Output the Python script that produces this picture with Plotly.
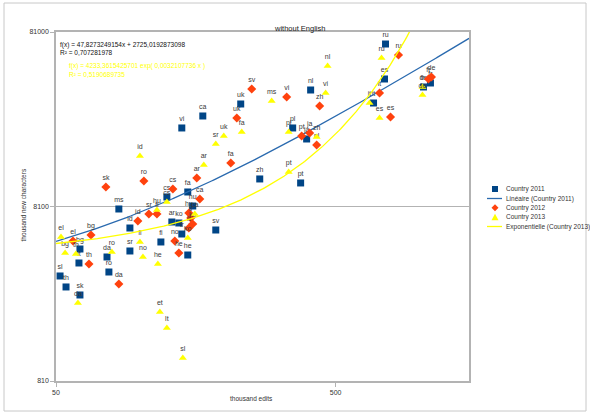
import numpy as np
import plotly.graph_objects as go

# ---- data: thousand edits (x) vs thousand new characters (y), per language ----
lang_2011 = ["vi", "ca", "uk", "nl", "ru", "es", "de", "fr", "it", "pl", "ja", "zh", "pt",
             "sv", "fa", "cs", "ms", "id", "ar", "hu", "ko", "tr", "fi", "he", "sr", "da",
             "ro", "bg", "lt", "sl", "th", "sk"]
edits_2011 = [140.9, 167.5, 228.9, 407.1, 754.3, 748.1, 1031, 1092, 683.4, 351.1, 393.9, 267.7, 374.9,
              186.4, 148.0, 124.6, 83.9, 91.9, 129.8, 154.2, 137.5, 140.9, 118.6, 148.0, 91.9, 76.1,
              77.3, 60.9, 60.4, 51.7, 54.3, 60.9]
chars_2011 = [22830, 26740, 31330, 37680, 69130, 43570, 39210, 41330, 31740, 22830, 19740, 11650, 11050,
              5940, 9810, 9183, 7838, 6099, 6603, 8154, 6516, 5635, 5072, 4271, 4503, 4160,
              3413, 4623, 3844, 3238, 2801, 2520]

lang_2012 = ["sv", "vi", "uk", "zh", "it", "es", "ru", "de", "fr", "pt", "ja", "nl", "fa", "ar",
             "ca", "ro", "sk", "cs", "sr", "fi", "id", "bg", "el", "th", "da", "no", "he", "hu",
             "tr", "ko", "lt"]
edits_2012 = [250.6, 334.2, 221.6, 438.5, 718.0, 786.0, 839.4, 1101, 1074, 378.1, 403.8, 427.8, 210.9, 159.4,
              163.4, 103.1, 75.4, 130.9, 107.4, 114.8, 98.1, 66.7, 57.5, 65.6, 83.9, 133.0, 137.5, 149.3,
              151.7, 154.2, 149.3]
chars_2012 = [38180, 34360, 26040, 30510, 36220, 26390, 59810, 44740, 43570, 20530, 21370, 18240, 14380, 11800,
              8942, 11340, 10470, 10200, 7336, 7336, 6690, 5562, 5139, 3794, 2914, 5139, 4385, 7437,
              6960, 6431, 6099]

lang_2013 = ["ms", "nl", "vi", "ru", "es", "it", "de", "fr", "uk", "fa", "sr", "ar", "id", "pt",
             "pl", "zh", "cs", "hu", "ca", "el", "bg", "th", "fi", "ro", "no", "he", "ko", "da",
             "et", "lt", "sl"]
edits_2013 = [295.4, 468.1, 460.6, 730.0, 718.0, 661.3, 1022.6, 1022.6, 199.1, 230.8, 186.4, 168.9, 99.8, 339.7,
              339.7, 427.8, 124.6, 114.8, 156.8, 52.1, 53.9, 58.9, 99.8, 79.2, 102.3, 115.7, 148.0, 59.9,
              117.6, 124.6, 142.1]
chars_2013 = [32590, 51740, 36220, 57480, 26040, 31740, 35280, 39210, 20530, 21650, 18480, 14000, 15770, 12770,
              21650, 20260, 8596, 7735, 7336, 5416, 4385, 4328, 5072, 4443, 4160, 3794, 5346, 2267,
              2014, 1631, 1097]

# trend line coefficients, as printed on the chart
lin_slope, lin_icpt, lin_r2 = 47.8273249154, 2725.0192873098, 0.707281978
exp_coef, exp_rate, exp_r2 = 4233.3615425701, 0.0032107736, 0.5190689735

x_ticks = [50, 500]
y_ticks = [810, 8100, 81000]

# ---- styling ----
BLUE, ORANGE, YELLOW, LINBLUE = "#004586", "#ff420e", "#ffff00", "#2a6aaf"
GRID = "#b3b3b3"
TXT = "#333333"
FONT = "Liberation Sans, Arial, sans-serif"

L, R, T, B, W, H = 56, 121, 32, 33, 590, 414
PW, PH = W - L - R, H - T - B


def px(xp):
    return (xp - L) / PW


def py(yp):
    return (H - B - yp) / PH


def label_font():
    return dict(size=7, color="#3a3a3a", family=FONT)


xmin, xmax = 50, 1500
xs = np.geomspace(xmin, xmax, 300)

fig = go.Figure()
fig.add_trace(go.Scatter(x=edits_2011, y=chars_2011, mode="markers+text", text=lang_2011,
                         textposition="top center", textfont=label_font(), name="Country 2011",
                         marker=dict(symbol="square", size=7, color=BLUE)))
fig.add_trace(go.Scatter(x=xs, y=lin_slope * xs + lin_icpt, mode="lines",
                         name="Linéaire (Country 2011)", line=dict(color=LINBLUE, width=1.3)))
fig.add_trace(go.Scatter(x=edits_2012, y=chars_2012, mode="markers+text", text=lang_2012,
                         textposition="top center", textfont=label_font(), name="Country 2012",
                         marker=dict(symbol="diamond", size=7, color=ORANGE)))
fig.add_trace(go.Scatter(x=edits_2013, y=chars_2013, mode="markers+text", text=lang_2013,
                         textposition="top center", textfont=label_font(), name="Country 2013",
                         marker=dict(symbol="triangle-up", size=7, color=YELLOW)))
fig.add_trace(go.Scatter(x=xs, y=exp_coef * np.exp(exp_rate * xs), mode="lines",
                         name="Exponentielle (Country 2013)", line=dict(color=YELLOW, width=1.3)))
fig.update_traces(selector=dict(mode="markers+text"), textfont_color="#3a3a3a")

fig.update_layout(
    width=W, height=H, margin=dict(l=L, r=R, t=T, b=B),
    paper_bgcolor="white", plot_bgcolor="white", showlegend=False,
    font=dict(family=FONT, size=7, color=TXT),
    xaxis=dict(type="log", range=[np.log10(xmin), np.log10(xmax)], tickvals=x_ticks,
               ticktext=[str(v) for v in x_ticks], showgrid=False, zeroline=False,
               showline=True, mirror=True, linecolor=GRID, linewidth=1.5,
               ticks="outside", ticklen=4, tickcolor=GRID, tickfont=dict(size=7, color=TXT)),
    yaxis=dict(type="log", range=[np.log10(810), np.log10(81000)], tickvals=y_ticks,
               ticktext=[str(v) for v in y_ticks], showgrid=True, gridcolor=GRID, gridwidth=1,
               zeroline=False, showline=True, mirror=True, linecolor=GRID, linewidth=1.5,
               ticks="outside", ticklen=4, tickcolor=GRID, tickfont=dict(size=7, color=TXT)),
)

ann = []
ann.append(dict(text="without English", x=px(299), y=py(35), xref="paper", yref="paper",
                yanchor="bottom", showarrow=False, font=dict(size=7.5, color="#222222")))
ann.append(dict(text="thousand edits", x=px(251), y=py(404), xref="paper", yref="paper",
                showarrow=False, font=dict(size=6.5, color=TXT)))
ann.append(dict(text="thousand new characters", x=px(17), y=py(205), xref="paper", yref="paper",
                showarrow=False, textangle=-90, font=dict(size=6.5, color=TXT)))

# equations of the two trend lines
eq_lines = [
    (f"f(x) = {lin_slope:.10f}x + {lin_icpt:.10f}".replace(".", ","), 58, 45, "#111111"),
    (f"R² = {lin_r2:.9f}".replace(".", ","), 58, 52, "#111111"),
    (f"f(x) = {exp_coef:.10f} exp( {exp_rate:.10f} x )".replace(".", ","), 67, 66, YELLOW),
    (f"R² = {exp_r2:.10f}".replace(".", ","), 67, 74, YELLOW),
]
for txt, x0, y0, col in eq_lines:
    ann.append(dict(text=txt, x=px(x0), y=py(y0), xref="paper", yref="paper", xanchor="left",
                    yanchor="middle", showarrow=False, font=dict(size=6.5, color=col)))

# legend, drawn by hand for its compact row spacing
legend_rows = ["Country 2011", "Linéaire (Country 2011)", "Country 2012", "Country 2013",
               "Exponentielle (Country 2013)"]
row_y = [189, 198.5, 207.7, 217.2, 226.5]
for name, yy in zip(legend_rows, row_y):
    ann.append(dict(text=name, x=px(504), y=py(yy), xref="paper", yref="paper", xanchor="left",
                    yanchor="middle", showarrow=False, font=dict(size=6.5, color=TXT)))

shapes = []
# outer chart frame
shapes.append(dict(type="rect", xref="paper", yref="paper", x0=px(4), x1=px(586), y0=py(411), y1=py(3),
                   line=dict(color="#c8c8c8", width=1), layer="below"))


def pix_marker(path, xc, yc, col):
    return dict(type="path", xref="paper", yref="paper", xsizemode="pixel", ysizemode="pixel",
                xanchor=px(xc), yanchor=py(yc), path=path, fillcolor=col, line=dict(width=0))


shapes.append(pix_marker("M-3,-3 L3,-3 L3,3 L-3,3 Z", 495, row_y[0], BLUE))
shapes.append(dict(type="line", xref="paper", yref="paper", x0=px(487), x1=px(502),
                   y0=py(row_y[1]), y1=py(row_y[1]), line=dict(color=LINBLUE, width=1.3)))
shapes.append(pix_marker("M0,-3.5 L3.5,0 L0,3.5 L-3.5,0 Z", 495, row_y[2], ORANGE))
shapes.append(pix_marker("M-3.5,-3 L3.5,-3 L0,3.5 Z", 495, row_y[3], YELLOW))
shapes.append(dict(type="line", xref="paper", yref="paper", x0=px(487), x1=px(502),
                   y0=py(row_y[4]), y1=py(row_y[4]), line=dict(color=YELLOW, width=1.3)))

fig.update_layout(annotations=ann, shapes=shapes)
fig.write_html("out.html")
